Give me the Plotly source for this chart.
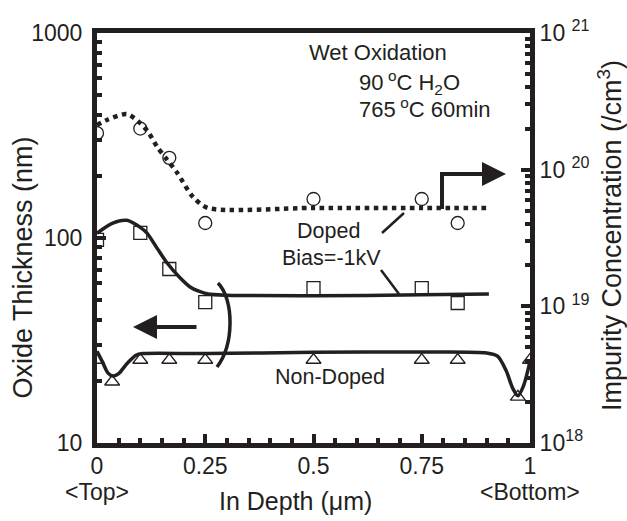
import plotly.graph_objects as go

# ---------------- data ----------------
# Impurity concentration (right axis, /cm3) - circles and dotted fit
conc_x = [0.0, 0.1, 0.167, 0.25, 0.5, 0.75, 0.833]
conc_y = [1.85e20, 2.0e20, 1.22e20, 4.07e19, 6.1e19, 6.1e19, 4.07e19]
conc_fit_x = [0.0, 0.023, 0.069, 0.099, 0.118, 0.139, 0.162, 0.185, 0.222, 0.256, 0.5, 0.75, 0.903]
conc_fit_y = [2.12e20, 2.31e20, 2.55e20, 2.2e20, 1.89e20, 1.47e20, 1.18e20, 9.5e19, 6.3e19,
              5.25e19, 5.25e19, 5.25e19, 5.25e19]

# Oxide thickness, doped (left axis, nm) - squares and solid fit
doped_x = [0.0, 0.1, 0.167, 0.25, 0.5, 0.75, 0.833]
doped_y = [98, 106, 70.6, 48.7, 57, 57, 48.2]
doped_fit_x = [0.0, 0.035, 0.069, 0.099, 0.115, 0.139, 0.162, 0.19, 0.215, 0.235, 0.256, 0.3, 0.5, 0.75, 0.905]
doped_fit_y = [105.5, 118, 122, 113, 106, 89, 75.5, 64.5, 57.7, 55, 53.3, 52.6, 52.3, 52.8, 53.3]

# Oxide thickness, non-doped (left axis, nm) - triangles and solid fit
nondoped_x = [0.0, 0.035, 0.1, 0.167, 0.25, 0.5, 0.75, 0.833, 0.972, 1.0]
nondoped_y = [25.4, 19.9, 25.4, 25.4, 25.4, 25.4, 25.4, 25.4, 16.8, 25.4]
nondoped_fit_x = [0.0, 0.012, 0.025, 0.037, 0.05, 0.07, 0.09, 0.105, 0.25, 0.5, 0.75, 0.9,
                  0.925, 0.945, 0.96, 0.972, 0.985, 1.0]
nondoped_fit_y = [28, 25, 22, 21.2, 21.8, 24.5, 26.8, 27.3, 27.3, 27.7, 27.8, 27.5,
                  26.5, 22.5, 18.5, 17, 19, 25]

x_ticks = [0, 0.25, 0.5, 0.75, 1]
x_ticklabels = ["0", "0.25", "0.5", "0.75", "1"]
left_ticks = [10, 100, 1000]
left_ticklabels = ["10", "100", "1000"]
right_ticks = [1e18, 1e19, 1e20, 1e21]
right_ticklabels = ["10<sup>18</sup>", "10 <sup>19</sup>", "10 <sup>20</sup>", "10 <sup>21</sup>"]

INK = "#231f20"
FONT = "Liberation Sans, Arial, sans-serif"

fig = go.Figure()

fig.add_trace(go.Scatter(x=conc_fit_x, y=conc_fit_y, yaxis="y2", mode="lines",
                         line=dict(color=INK, width=4.5, dash="dot", shape="spline", smoothing=0.8),
                         showlegend=False, hoverinfo="skip"))
fig.add_trace(go.Scatter(x=doped_fit_x, y=doped_fit_y, mode="lines",
                         line=dict(color=INK, width=3.5, shape="spline", smoothing=0.8),
                         showlegend=False, hoverinfo="skip"))
fig.add_trace(go.Scatter(x=nondoped_fit_x, y=nondoped_fit_y, mode="lines",
                         line=dict(color=INK, width=3.5, shape="spline", smoothing=0.8),
                         showlegend=False, hoverinfo="skip"))

fig.add_trace(go.Scatter(x=conc_x, y=conc_y, yaxis="y2", mode="markers",
                         marker=dict(symbol="circle-open", size=13, color=INK, line=dict(width=1.3)),
                         showlegend=False))
fig.add_trace(go.Scatter(x=doped_x, y=doped_y, mode="markers",
                         marker=dict(symbol="square-open", size=13, color=INK, line=dict(width=1.3)),
                         showlegend=False))
fig.add_trace(go.Scatter(x=nondoped_x, y=nondoped_y, mode="markers",
                         marker=dict(symbol="triangle-up-open", size=13, color=INK, line=dict(width=1.3)),
                         showlegend=False))

tickfont = dict(family=FONT, size=23, color=INK)
left_minor = [float(m) * 10.0 ** e for e in (1, 2) for m in range(2, 10)]
right_minor = [float(m) * 10.0 ** e for e in (18, 19, 20) for m in range(2, 10)]

fig.update_layout(
    width=627, height=521,
    margin=dict(l=97, r=97, t=33, b=78),
    paper_bgcolor="white", plot_bgcolor="white",
    xaxis=dict(range=[0, 1], tickvals=x_ticks, ticktext=x_ticklabels,
               ticks="inside", ticklen=9, tickwidth=3.5, tickcolor=INK,
               minor=dict(dtick=0.05, ticks="inside", ticklen=5, tickwidth=3.5, tickcolor=INK),
               showline=True, linewidth=5, linecolor=INK, mirror=True, ticklabelstandoff=-2,
               showgrid=False, zeroline=False, tickfont=tickfont),
    yaxis=dict(type="log", range=[1, 3], tickvals=left_ticks, ticktext=left_ticklabels,
               ticks="inside", ticklen=9, tickwidth=3.5, tickcolor=INK,
               minor=dict(tickvals=left_minor,
                          ticks="inside", ticklen=5, tickwidth=3.5, tickcolor=INK),
               showline=True, linewidth=5, linecolor=INK, ticklabelstandoff=5,
               showgrid=False, zeroline=False, tickfont=tickfont),
    yaxis2=dict(type="log", range=[18, 21], overlaying="y", side="right",
                tickvals=right_ticks, ticktext=right_ticklabels,
                ticks="inside", ticklen=9, tickwidth=3.5, tickcolor=INK,
                minor=dict(tickvals=right_minor,
                           ticks="inside", ticklen=5, tickwidth=3.5, tickcolor=INK),
                showline=True, linewidth=5, linecolor=INK,
                showgrid=False, zeroline=False, tickfont=tickfont),
)

def txt(text, x, y, size=20, xanchor="center", textangle=0):
    fig.add_annotation(text=text, x=x, y=y, xref="paper", yref="paper", showarrow=False,
                       xanchor=xanchor, yanchor="middle", textangle=textangle,
                       font=dict(family=FONT, size=size, color=INK))

# axis titles and end labels
txt("Oxide Thickness (nm)", -0.173, 0.428, size=27, textangle=-90)
txt("Impurity Concentration (/cm<sup>3</sup>)", 1.185, 0.505, size=27, textangle=-90)
txt("In Depth (\u03bcm)", 0.458, -0.142, size=25)
txt("&lt;Top&gt;", 0.0, -0.12, size=23)
txt("&lt;Bottom&gt;", 1.0, -0.12, size=23)

# conditions
txt("Wet Oxidation", 0.649, 0.952, size=22)
txt("90\u2009<sup>o</sup>C H<sub>2</sub>O", 0.600, 0.880, size=22, xanchor="left")
txt("765\u2009<sup>o</sup>C 60min", 0.600, 0.817, size=22, xanchor="left")
txt("Doped", 0.535, 0.518, size=21.5)
txt("Bias=-1kV", 0.541, 0.451, size=21.5)
txt("Non-Doped", 0.538, 0.161, size=21.5)

line_style = dict(color=INK, width=2.5)
# leader lines
fig.add_shape(type="line", xref="paper", yref="paper", x0=0.6582, y0=0.5122, x1=0.7090, y1=0.5610, line=line_style)
fig.add_shape(type="line", xref="paper", yref="paper", x0=0.6559, y0=0.4220, x1=0.6975, y1=0.3634, line=line_style)
# bracket grouping the thickness curves
fig.add_shape(type="path", xref="paper", yref="paper",
              path="M 0.2794,0.3902 C 0.3169,0.35 0.3169,0.24 0.2771,0.1854",
              line=dict(color=INK, width=3.5))
# left arrow (thickness -> left axis)
fig.add_annotation(x=0.0831, y=0.2829, xref="paper", yref="paper", text="", showarrow=True,
                   ax=65, ay=0, arrowhead=2, arrowsize=1.2, arrowwidth=4, arrowcolor=INK)
# right arrow (concentration -> right axis)
fig.add_shape(type="line", xref="paper", yref="paper", x0=0.7968, y0=0.5707, x1=0.7968, y1=0.6610,
              line=dict(color=INK, width=4))
fig.add_annotation(x=0.9446, y=0.6561, xref="paper", yref="paper", text="", showarrow=True,
                   ax=-66, ay=0, arrowhead=2, arrowsize=1.2, arrowwidth=4, arrowcolor=INK)

fig.write_html("out.html")
